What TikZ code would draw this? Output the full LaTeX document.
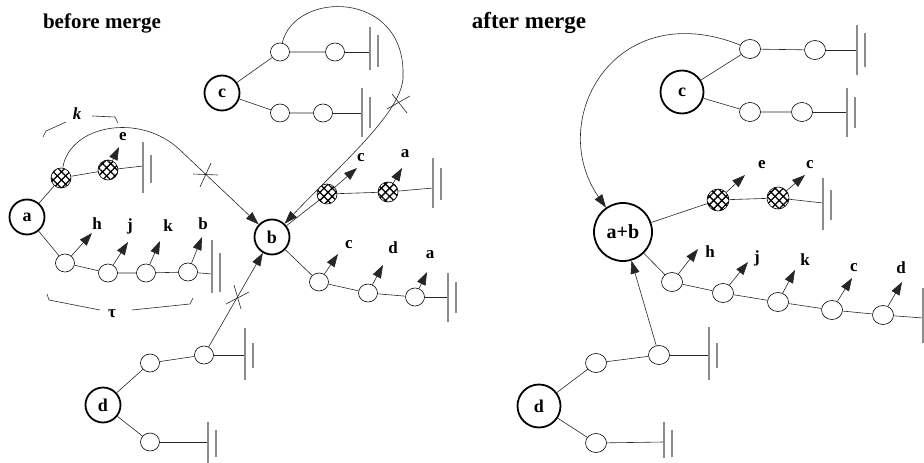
\documentclass[tikz,border=0pt]{standalone}
\usepackage{fontspec}
\setmainfont{Liberation Serif}
\usetikzlibrary{arrows.meta,patterns.meta,shapes.geometric}
\begin{document}
\begin{tikzpicture}[x=1pt,y=-1pt,
  ln/.style={line width=0.6pt, black!85},
  big/.style={circle, draw, line width=1.8pt, minimum size=35pt, inner sep=0pt, font=\bfseries\fontsize{18}{18}\selectfont},
  bigA/.style={big, minimum size=43pt},
  bigAB/.style={big, minimum size=58pt, font=\bfseries\fontsize{20}{20}\selectfont},
  sm/.style={ellipse, draw, line width=0.6pt, fill=white, minimum width=19pt, minimum height=18pt, inner sep=0pt},
  smA/.style={sm, minimum width=21pt, minimum height=19pt},
  hat/.style={circle, draw, line width=0.6pt, minimum size=20pt, inner sep=0pt, pattern={Hatch[angle=45,distance=5.8pt,line width=1.3pt]}},
  hatA/.style={hat, minimum size=22pt},
  arr/.style={ln, -{Triangle[length=13pt,width=9pt]}},
  lab/.style={font=\bfseries\fontsize{17}{17}\selectfont, inner sep=0pt},
  gbar/.style={line width=1.3pt, black!45},
  title/.style={font=\bfseries\fontsize{21}{21}\selectfont, inner sep=0pt},
  pics/gnd/.style n args={4}{code={\draw[gbar] (0,#1) -- (0,#2); \draw[gbar] (8,#3) -- (8,#4);}},
  pics/gndone/.style n args={2}{code={\draw[gbar] (0,#1) -- (0,#2);}}
]
\useasboundingbox (0,0) rectangle (924,463);

% ---------------- titles ----------------
\node[title] (t1) at (102,23) {before merge};
\node[title, font=\bfseries\fontsize{23}{23}\selectfont] (t2) at (529,23) {after merge};

% ---------------- BEFORE ----------------
\node[big] (a) at (27,217) {a};
\node[hat] (ha1) at (61,178) {};
\node[hat] (ha2) at (108,170) {};
\node[sm] (ch) at (65,263) {};
\node[sm] (cj) at (108,273) {};
\node[sm] (ck) at (146,273) {};
\node[sm] (cb) at (188,272) {};

\node[big] (b) at (272,237) {b};
\node[hat] (hc) at (327,194) {};
\node[hat] (hb2) at (388,192) {};
\node[sm] (bc) at (319,282) {};
\node[sm] (bd) at (368,293) {};
\node[sm] (ba) at (415,297) {};

\node[big] (c) at (222,93) {c};
\node[sm] (cu1) at (280,52) {};
\node[sm] (cu2) at (335,52) {};
\node[sm] (cl1) at (280,113) {};
\node[sm] (cl2) at (323,113) {};

\node[big] (d) at (103,405) {d};
\node[sm] (dc1) at (150,363) {};
\node[sm] (dc2) at (204,355) {};
\node[sm] (dl1) at (150,442) {};

% chains
\draw[ln] (a) -- (ha1) -- (ha2);
\draw[ln] (a) -- (ch) -- (cj) -- (ck) -- (cb);
\draw[ln] (b) -- (hc) -- (hb2);
\draw[ln] (b) -- (bc) -- (bd) -- (ba);
\draw[ln] (c) -- (cu1) -- (cu2);
\draw[ln] (c) -- (cl1) -- (cl2);
\draw[ln] (d) -- (dc1) -- (dc2);
\draw[ln] (d) -- (dl1);

% grounds
\coordinate (g1) at (143,166); \draw[ln] (ha2) -- (g1); \pic at (g1) {gnd={-24}{27}{-11}{17}};
\coordinate (g2) at (212,274); \draw[ln] (cb) -- (g2); \pic at (g2) {gnd={-34}{19}{-21}{18}};
\coordinate (g3) at (370,52); \draw[ln] (cu2) -- (g3); \pic at (g3) {gnd={-25}{18}{-17}{15}};
\coordinate (g4) at (362,113); \draw[ln] (cl2) -- (g4); \pic at (g4) {gnd={-25}{24}{-16}{15}};
\coordinate (g5) at (433,188); \draw[ln] (hb2) -- (g5); \pic at (g5) {gnd={-30}{20}{-20}{12}};
\coordinate (g6) at (448,297); \draw[ln] (ba) -- (g6); \pic at (g6) {gnd={-24}{25}{-15}{16}};
\coordinate (g7) at (245,355); \draw[ln] (dc2) -- (g7); \pic at (g7) {gnd={-27}{25}{-12}{13}};
\coordinate (g8) at (208,442); \draw[ln] (dl1) -- (g8); \pic at (g8) {gnd={-20}{21}{-12}{15}};

% outgoing arrows + labels
\draw[arr] (ch) -- +(27,-30);  \node[lab] (lh) at (97,224) {h};
\draw[arr] (cj) -- +(20,-31);  \node[lab] (lj) at (130,226) {j};
\draw[arr] (ck) -- +(14,-32);  \node[lab] (lk) at (168,226) {k};
\draw[arr] (cb) -- +(14,-35);  \node[lab] (lb) at (203,224) {b};
\draw[arr] (ha2) -- +(11,-23); \node[lab] (le) at (123,137) {e};
\draw[arr] (hc) -- +(30,-26);  \node[lab] (lc1) at (361,158) {c};
\draw[arr] (hb2) -- +(14,-24); \node[lab] (la1) at (405,154) {a};
\draw[arr] (bc) -- +(19,-28);  \node[lab] (lc2) at (349,245) {c};
\draw[arr] (bd) -- +(15,-28);  \node[lab] (ld2) at (393,248) {d};
\draw[arr] (ba) -- +(12,-25);  \node[lab] (la2) at (430,255) {a};

% merge arrows
\draw[arr] (ha1) .. controls (70,125) and (140,112) .. (180,150) -- (b);
\draw[arr] (cu1) .. controls (295,-10) and (405,-10) .. (403,75) .. controls (405,110) and (340,165) .. (b);
\draw[arr] (dc2) -- (b);

% cut marks
\draw[ln] (193,174) -- (218,175); \draw[ln] (200,187) -- (211,163);
\draw[ln] (387,109) -- (410,96); \draw[ln] (392,94) -- (407,113);
\draw[ln] (226,304) -- (249,292); \draw[ln] (234,285) -- (241,309);

% brackets
\draw[ln] (43,137) -- (46,131) -- (66,122);
\draw[ln] (92,116) -- (115,117) -- (118,123);
\node[lab, font=\bfseries\itshape\fontsize{17}{17}\selectfont] (kk) at (77,114) {k};
\draw[ln] (47,294) -- (49,300) -- (100,310);
\draw[ln] (132,310) -- (190,304) -- (193,298);
\node[lab] (tau) at (112,314) {τ};

% ---------------- AFTER ----------------
\node[bigA] (ac) at (682,92) {c};
\node[smA] (acu1) at (750,49) {};
\node[smA] (acu2) at (815,50) {};
\node[smA] (acl1) at (750,112) {};
\node[smA] (acl2) at (802,112) {};

\node[bigAB] (ab) at (623,232) {a+b};
\node[hatA] (ah1) at (718,200) {};
\node[hatA] (ah2) at (778,198) {};
\node[smA] (al1) at (672,282) {};
\node[smA] (al2) at (723,293) {};
\node[smA] (al3) at (778,302) {};
\node[smA] (al4) at (832,310) {};
\node[smA] (al5) at (883,315) {};

\node[bigA] (ad) at (539,406) {d};
\node[smA] (adc1) at (596,363) {};
\node[smA] (adc2) at (659,355) {};
\node[smA] (adl1) at (596,443) {};

\draw[ln] (ac) -- (acu1) -- (acu2);
\draw[ln] (ac) -- (acl1) -- (acl2);
\draw[ln] (ab) -- (ah1) -- (ah2);
\draw[ln] (ab) -- (al1) -- (al2) -- (al3) -- (al4) -- (al5);
\draw[ln] (ad) -- (adc1) -- (adc2);
\draw[ln] (ad) -- (adl1);

\coordinate (g9) at (857,50); \draw[ln] (acu2) -- (g9); \pic at (g9) {gnd={-25}{25}{-17}{17}};
\coordinate (g10) at (847,112); \draw[ln] (acl2) -- (g10); \pic at (g10) {gnd={-24}{25}{-15}{16}};
\coordinate (g11) at (823,203); \draw[ln] (ah2) -- (g11); \pic at (g11) {gnd={-25}{27}{-13}{17}};
\coordinate (g12) at (923,318); \draw[ln] (al5) -- (g12); \pic at (g12) {gndone={-30}{25}};
\coordinate (g13) at (709,355); \draw[ln] (adc2) -- (g13); \pic at (g13) {gnd={-28}{25}{-12}{13}};
\coordinate (g14) at (664,442); \draw[ln] (adl1) -- (g14); \pic at (g14) {gnd={-20}{16}{-12}{15}};

\draw[arr] (ah1) -- +(27,-25); \node[lab] (le2) at (762,165) {e};
\draw[arr] (ah2) -- +(27,-23); \node[lab] (lc3) at (810,165) {c};
\draw[arr] (al1) -- +(26,-33); \node[lab] (lh2) at (710,252) {h};
\draw[arr] (al2) -- +(25,-31); \node[lab] (lj2) at (757,258) {j};
\draw[arr] (al3) -- +(17,-32); \node[lab] (lk2) at (805,260) {k};
\draw[arr] (al4) -- +(20,-32); \node[lab] (lc4) at (854,268) {c};
\draw[arr] (al5) -- +(19,-33); \node[lab] (ld3) at (901,268) {d};

\draw[arr] (acu1) .. controls (615,-5) and (545,120) .. (ab);
\draw[arr] (adc2) -- (ab);

\end{tikzpicture}
\end{document}
